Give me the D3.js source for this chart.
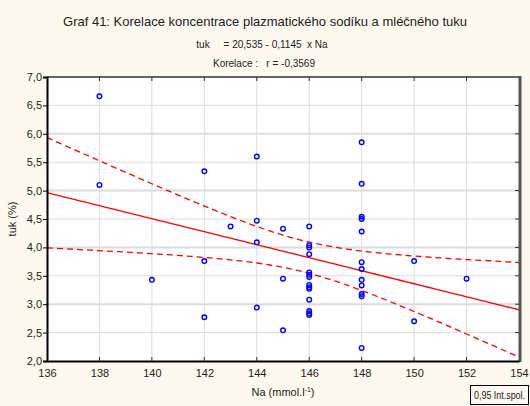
<!DOCTYPE html>
<html>
<head>
<meta charset="utf-8">
<script src="https://cdn.jsdelivr.net/npm/d3@7"></script>
<style>
  body { margin: 0; background: #fdf9ee; }
  svg { display: block; font-family: "Liberation Sans", Arial, sans-serif; }
</style>
</head>
<body>
<div id="chart"></div>
<script>
// Na (mmol/l) and tuk (%) pairs
const na = [
  138, 138,
  140,
  142, 142, 142,
  143,
  144, 144, 144, 144,
  145, 145, 145,
  146, 146, 146, 146, 146, 146, 146, 146, 146, 146, 146, 146, 146, 146,
  148, 148, 148, 148, 148, 148, 148, 148, 148, 148, 148, 148,
  150, 150,
  152
];
const tuk = [
  6.66, 5.10,
  3.43,
  5.34, 3.76, 2.77,
  4.37,
  5.60, 4.47, 4.09, 2.94,
  4.33, 3.45, 2.54,
  4.37, 4.04, 4.00, 3.88, 3.56, 3.52, 3.48, 3.34, 3.30, 3.27, 3.08, 2.88, 2.84, 2.81,
  5.85, 5.12, 4.54, 4.50, 4.28, 3.74, 3.62, 3.43, 3.33, 3.18, 3.14, 2.23,
  3.76, 2.70,
  3.45
];
const intercept = 20.535;
const slope = -0.1145;
const xTicks = [136, 138, 140, 142, 144, 146, 148, 150, 152, 154];
const yTicks = [2.0, 2.5, 3.0, 3.5, 4.0, 4.5, 5.0, 5.5, 6.0, 6.5, 7.0];

const width = 530, height = 406;
const margin = {top: 77, right: 11, bottom: 45, left: 47};

const svg = d3.select("#chart").append("svg")
    .attr("width", width)
    .attr("height", height);

svg.append("rect").attr("width", width).attr("height", height).attr("fill", "#fdf9ee");

const x = d3.scaleLinear().domain([136, 154]).range([margin.left, width - margin.right]);
const y = d3.scaleLinear().domain([2, 7]).range([height - margin.bottom, margin.top]);

// plot background
svg.append("rect")
    .attr("x", x(136)).attr("y", y(7))
    .attr("width", x(154) - x(136)).attr("height", y(2) - y(7))
    .attr("fill", "#fff");

// grid
svg.append("g")
    .selectAll("line")
    .data(xTicks.slice(1, -1))
    .join("line")
      .attr("x1", d => x(d)).attr("x2", d => x(d))
      .attr("y1", y(7)).attr("y2", y(2))
      .attr("stroke", "#dcdcdc");
svg.append("g")
    .selectAll("line")
    .data(yTicks.slice(1, -1))
    .join("line")
      .attr("x1", x(136)).attr("x2", x(154))
      .attr("y1", d => y(d)).attr("y2", d => y(d))
      .attr("stroke", "#dcdcdc")
      .attr("stroke-width", (d, i) => i % 2 === 1 ? 2 : 1);

// regression line + 95% confidence band
const n = na.length;
const xbar = d3.mean(na);
const sxx = d3.sum(na, v => (v - xbar) ** 2);
const sse = d3.sum(na, (v, i) => (tuk[i] - (intercept + slope * v)) ** 2);
const s = Math.sqrt(sse / (n - 2));
const tcrit = 2.02;
const grid = d3.range(136, 154.01, 0.25);
const band = grid.map(v => {
  const fit = intercept + slope * v;
  const hw = tcrit * s * Math.sqrt(1 / n + (v - xbar) ** 2 / sxx);
  return {x: v, fit: fit, lo: fit - hw, hi: fit + hw};
});

svg.append("clipPath").attr("id", "plotclip")
  .append("rect")
    .attr("x", x(136)).attr("y", y(7))
    .attr("width", x(154) - x(136)).attr("height", y(2) - y(7));

const lines = svg.append("g").attr("clip-path", "url(#plotclip)");
lines.append("path")
    .attr("d", d3.line().x(d => x(d.x)).y(d => y(d.fit))(band))
    .attr("fill", "none").attr("stroke", "#ff0000").attr("stroke-width", 1.3);
["lo", "hi"].forEach(k => {
  lines.append("path")
      .attr("d", d3.line().x(d => x(d.x)).y(d => y(d[k]))(band))
      .attr("fill", "none").attr("stroke", "#ff0000").attr("stroke-width", 1.3)
      .attr("stroke-dasharray", "6,4");
});

// points
svg.append("g")
    .selectAll("circle")
    .data(na.map((v, i) => [v, tuk[i]]))
    .join("circle")
      .attr("cx", d => x(d[0]))
      .attr("cy", d => y(d[1]))
      .attr("r", 2.3)
      .attr("fill", "none")
      .attr("stroke", "#0000ff")
      .attr("stroke-width", 1.4);

// frame
svg.append("line").attr("x1", x(136)).attr("x2", x(154)).attr("y1", y(7)).attr("y2", y(7))
    .attr("stroke", "#333").attr("stroke-width", 1.5);
svg.append("line").attr("x1", x(154) + 1).attr("x2", x(154) + 1).attr("y1", y(7) - 1).attr("y2", y(2) + 1)
    .attr("stroke", "#555").attr("stroke-width", 3);

// axes
const yAxis = svg.append("g")
    .attr("transform", `translate(${x(136)},0)`)
    .call(d3.axisLeft(y).tickValues(yTicks).tickSize(4)
      .tickFormat(d => d3.format(".1f")(d).replace(".", ",")));
yAxis.select(".domain").attr("stroke", "#000").attr("stroke-width", 2);
yAxis.selectAll("text").attr("font-size", 11).attr("fill", "#222").attr("x", -5);

const xAxis = svg.append("g")
    .attr("transform", `translate(0,${y(2)})`)
    .call(d3.axisBottom(x).tickValues(xTicks).tickSize(0).tickPadding(8));
xAxis.select(".domain").attr("stroke", "#000").attr("stroke-width", 2);
xAxis.selectAll("text").attr("font-size", 11).attr("fill", "#222");

// inner ticks on top, bottom and right
svg.append("g").selectAll("line").data(xTicks.slice(1, -1)).join("line")
    .attr("x1", d => x(d)).attr("x2", d => x(d))
    .attr("y1", y(7)).attr("y2", y(7) + 4).attr("stroke", "#333");
svg.append("g").selectAll("line").data(xTicks.slice(1, -1)).join("line")
    .attr("x1", d => x(d)).attr("x2", d => x(d))
    .attr("y1", y(2)).attr("y2", y(2) - 4).attr("stroke", "#333");
svg.append("g").selectAll("line").data(yTicks.slice(1, -1)).join("line")
    .attr("x1", x(154)).attr("x2", x(154) - 4)
    .attr("y1", d => y(d)).attr("y2", d => y(d)).attr("stroke", "#333");

// titles
svg.append("text")
    .attr("x", 265).attr("y", 26)
    .attr("text-anchor", "middle")
    .attr("font-size", 13).attr("fill", "#222")
    .text("Graf 41: Korelace koncentrace plazmatického sodíku a mléčného tuku");
svg.append("text")
    .attr("x", 262).attr("y", 48)
    .attr("text-anchor", "middle")
    .attr("font-size", 10).attr("fill", "#222")
    .style("white-space", "pre")
    .text("tuk     = 20,535 - 0,1145  x Na");
svg.append("text")
    .attr("x", 264).attr("y", 67)
    .attr("text-anchor", "middle")
    .attr("font-size", 10).attr("fill", "#222")
    .style("white-space", "pre")
    .text("Korelace :   r = -0,3569");

svg.append("text")
    .attr("transform", `translate(16,${(y(2) + y(7)) / 2}) rotate(-90)`)
    .attr("text-anchor", "middle")
    .attr("font-size", 11).attr("fill", "#222")
    .text("tuk (%)");

const xl = svg.append("text")
    .attr("x", 283).attr("y", 396)
    .attr("text-anchor", "middle")
    .attr("font-size", 11).attr("fill", "#222");
xl.append("tspan").text("Na (mmol.l");
xl.append("tspan").attr("dy", -4).attr("font-size", 7).text("-1");
xl.append("tspan").attr("dy", 4).text(")");

// legend
svg.append("rect")
    .attr("x", 470.5).attr("y", 385.5).attr("width", 58).attr("height", 19)
    .attr("fill", "#fdf9ee").attr("stroke", "#000");
svg.append("text")
    .attr("x", 474).attr("y", 399)
    .attr("font-size", 10).attr("fill", "#222")
    .attr("textLength", 51).attr("lengthAdjust", "spacingAndGlyphs")
    .text("0,95 Int.spol.");
</script>
</body>
</html>
